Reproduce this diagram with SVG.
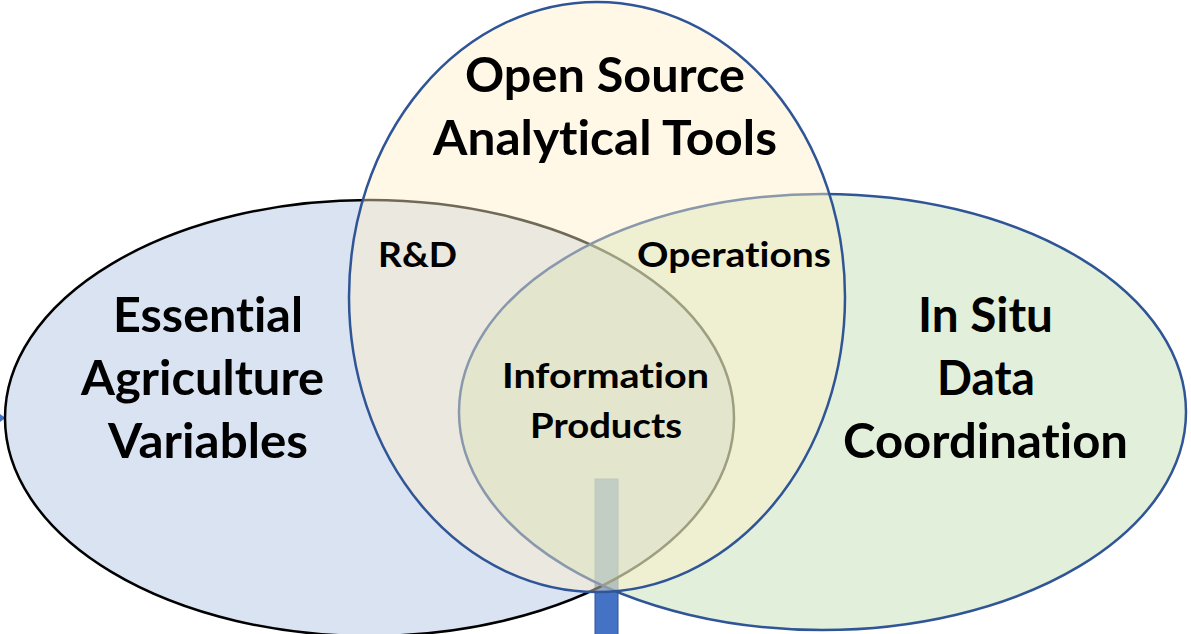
<svg xmlns="http://www.w3.org/2000/svg" width="1191" height="634" viewBox="0 0 1191 634">
  <style>
    .set { fill-opacity: 0.44; stroke-width: 2.5; }
    text { font-family: Lato, "Liberation Sans", sans-serif; font-weight: bold; fill: #000; text-anchor: middle; font-variant-ligatures: none; font-feature-settings: "liga" 0; }
    .big { font-size: 48px; }
    .small { font-size: 35px; }
  </style>
  <rect width="1191" height="634" fill="#ffffff"/>

  <!-- stem under the circles, and the small pointer at the left edge -->
  <g id="connectors">
    <rect x="595" y="479" width="23" height="160" fill="#4472C4" stroke="#2F5597" stroke-width="1"/>
    <path d="M0,414 L5.5,418 L0,422 Z" fill="#4472C4"/>
  </g>

  <!-- Essential Agriculture Variables -->
  <g id="node-eav">
    <ellipse class="set" cx="369.5" cy="418" rx="364.5" ry="218" fill="#ABBFE1" stroke="#000000" stroke-width="2.2"/>
  </g>

  <!-- In Situ Data Coordination -->
  <g id="node-insitu">
    <ellipse class="set" cx="822.5" cy="412" rx="363.5" ry="218" fill="#BDDBAB" stroke="#2F5597"/>
  </g>

  <!-- Open Source Analytical Tools -->
  <g id="node-tools">
    <ellipse class="set" cx="597" cy="297" rx="248" ry="295" fill="#FFEFC6" stroke="#2F5597"/>
  </g>

  <g id="labels">
    <text class="big" x="605" y="92" textLength="280" lengthAdjust="spacingAndGlyphs">Open Source</text>
    <text class="big" x="605" y="155" textLength="344" lengthAdjust="spacingAndGlyphs">Analytical Tools</text>

    <text class="big" x="208" y="332" textLength="190" lengthAdjust="spacingAndGlyphs">Essential</text>
    <text class="big" x="202.5" y="395" textLength="243" lengthAdjust="spacingAndGlyphs">Agriculture</text>
    <text class="big" x="208" y="458" textLength="200" lengthAdjust="spacingAndGlyphs">Variables</text>

    <text class="big" x="985.5" y="332" textLength="135" lengthAdjust="spacingAndGlyphs">In Situ</text>
    <text class="big" x="986" y="395" textLength="98" lengthAdjust="spacingAndGlyphs">Data</text>
    <text class="big" x="985.5" y="458" textLength="285" lengthAdjust="spacingAndGlyphs">Coordination</text>

    <text class="small" x="417.5" y="267" textLength="79" lengthAdjust="spacingAndGlyphs">R&amp;D</text>
    <text class="small" x="734" y="267" textLength="194" lengthAdjust="spacingAndGlyphs">Operations</text>
    <text class="small" x="605.5" y="388" textLength="207" lengthAdjust="spacingAndGlyphs">Information</text>
    <text class="small" x="606" y="438" textLength="152" lengthAdjust="spacingAndGlyphs">Products</text>
  </g>
</svg>
